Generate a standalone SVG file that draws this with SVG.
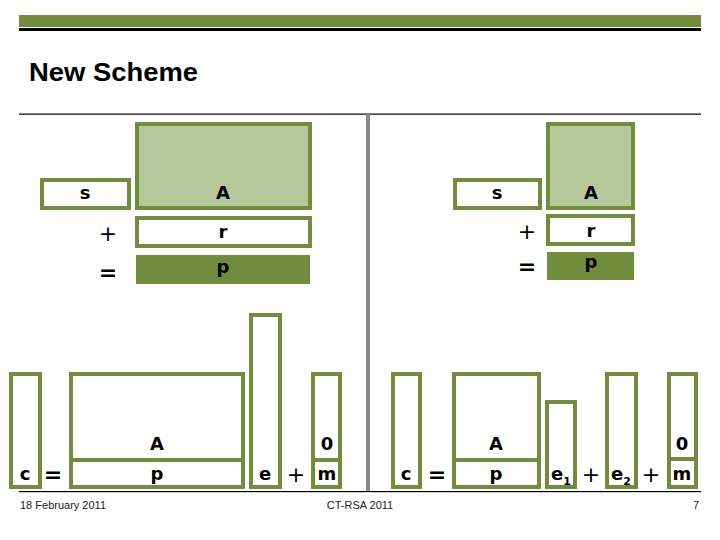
<svg xmlns="http://www.w3.org/2000/svg" width="720" height="540" viewBox="0 0 720 540">
<style>
.bx{fill:#ffffff;stroke:#708c3c;stroke-width:4}
.lt{fill:#b6c89b;stroke:#708c3c;stroke-width:4}
.dk{fill:#708c3c}
.dv{stroke:#708c3c;stroke-width:4}
.lb{font-family:"DejaVu Sans",Verdana,sans-serif;font-weight:bold;font-size:18px;fill:#000;text-anchor:middle}
.op{font-family:"DejaVu Sans",Verdana,sans-serif;font-size:22px;fill:#000;text-anchor:middle}
.sub{font-size:11px}
.ft{font-family:"Liberation Sans",Arial,sans-serif;font-size:11px;fill:#222}
</style>
<rect width="720" height="540" fill="#ffffff"/>
<g id="header">
<rect x="19" y="15" width="682" height="12" fill="#708c3c"/>
<rect x="19" y="28" width="682" height="3" fill="#000"/>
<text x="29" y="81" font-family="'Liberation Sans',Arial,sans-serif" font-weight="bold" font-size="26" textLength="169" lengthAdjust="spacingAndGlyphs" fill="#000">New Scheme</text>
<rect x="19" y="113.5" width="682" height="1.2" fill="#000"/>
<rect x="366" y="114" width="4" height="378" fill="#888"/>
<rect x="19" y="491" width="682" height="1.2" fill="#000"/>
</g>
<g id="footer">
<text class="ft" x="20" y="509">18 February 2011</text>
<text class="ft" x="360" y="509" text-anchor="middle">CT-RSA 2011</text>
<text class="ft" x="699" y="509" text-anchor="end">7</text>
</g>
<g id="left-top">
<g id="L-s"><rect class="bx" x="42" y="180" width="87" height="28"/><text class="lb" x="85" y="199">s</text></g>
<g id="L-A"><rect class="lt" x="137" y="124" width="173" height="84"/><text class="lb" x="223" y="199">A</text></g>
<text class="op" x="108" y="241">+</text>
<g id="L-r"><rect class="bx" x="137" y="218" width="173" height="28"/><text class="lb" x="223" y="238">r</text></g>
<text class="op" x="108" y="280" font-weight="bold">=</text>
<g id="L-p"><rect class="dk" x="136" y="255" width="174" height="29"/><text class="lb" x="223" y="273">p</text></g>
</g>
<g id="right-top">
<g id="R-s"><rect class="bx" x="455" y="180" width="85" height="28"/><text class="lb" x="497" y="199">s</text></g>
<g id="R-A"><rect class="lt" x="548" y="124" width="85" height="84"/><text class="lb" x="591" y="199">A</text></g>
<text class="op" x="527" y="239">+</text>
<g id="R-r"><rect class="bx" x="548" y="216" width="85" height="28"/><text class="lb" x="591" y="237">r</text></g>
<text class="op" x="527" y="274" font-weight="bold">=</text>
<g id="R-p"><rect class="dk" x="547" y="252" width="87" height="28"/><text class="lb" x="591" y="268">p</text></g>
</g>
<g id="left-bottom">
<g id="L-c"><rect class="bx" x="11" y="374" width="29" height="113"/><text class="lb" x="25" y="480">c</text></g>
<text class="op" x="53" y="482" font-weight="bold">=</text>
<g id="L-Ap"><rect class="bx" x="71" y="374" width="172" height="113"/><line class="dv" x1="71" y1="460" x2="243" y2="460"/><text class="lb" x="157" y="450">A</text><text class="lb" x="157" y="480">p</text></g>
<g id="L-e"><rect class="bx" x="251" y="315" width="29" height="172"/><text class="lb" x="265" y="480">e</text></g>
<text class="op" x="296" y="482">+</text>
<g id="L-m"><rect class="bx" x="313" y="374" width="27" height="113"/><line class="dv" x1="313" y1="460" x2="340" y2="460"/><text class="lb" x="327" y="450">0</text><text class="lb" x="327" y="480">m</text></g>
</g>
<g id="right-bottom">
<g id="R-c"><rect class="bx" x="393" y="374" width="27" height="113"/><text class="lb" x="406" y="480">c</text></g>
<text class="op" x="437" y="482" font-weight="bold">=</text>
<g id="R-Ap"><rect class="bx" x="454" y="374" width="85" height="113"/><line class="dv" x1="454" y1="460" x2="539" y2="460"/><text class="lb" x="496" y="450">A</text><text class="lb" x="496" y="480">p</text></g>
<g id="R-e1"><rect class="bx" x="547" y="402" width="28" height="85"/><text class="lb" x="561" y="480">e<tspan class="sub" dy="5">1</tspan></text></g>
<text class="op" x="591" y="482">+</text>
<g id="R-e2"><rect class="bx" x="607" y="374" width="29" height="113"/><text class="lb" x="621" y="480">e<tspan class="sub" dy="5">2</tspan></text></g>
<text class="op" x="651" y="482">+</text>
<g id="R-m"><rect class="bx" x="669" y="374" width="27" height="113"/><line class="dv" x1="669" y1="459" x2="696" y2="459"/><text class="lb" x="682" y="450">0</text><text class="lb" x="682" y="480">m</text></g>
</g>
</svg>
